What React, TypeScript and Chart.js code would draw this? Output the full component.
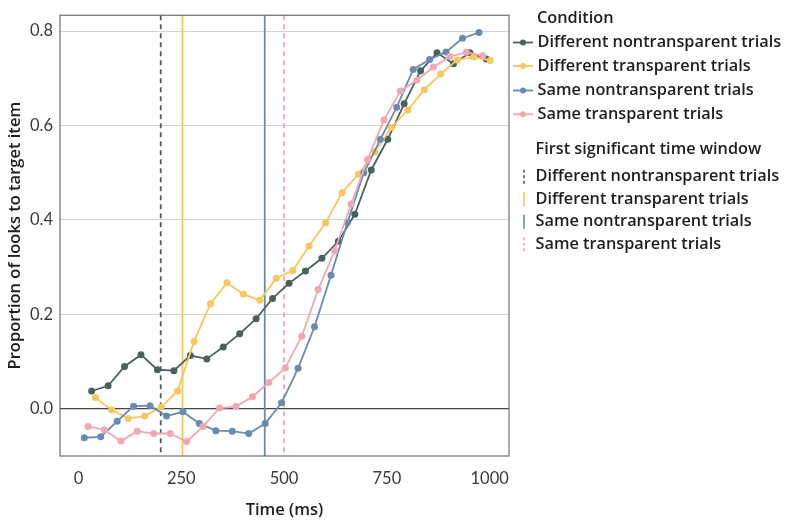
import React, { useEffect, useRef } from "react";
import { Chart, registerables } from "chart.js";
Chart.register(...registerables);

const seriesNames = [
  "Different nontransparent trials",
  "Different transparent trials",
  "Same nontransparent trials",
  "Same transparent trials",
];
const seriesColors = ["#4a6160", "#f5c75e", "#6a8ab0", "#f3a7b1"];

const diffNontranspTimes = [32, 72, 112, 152, 192, 232, 272, 312, 352, 392, 432, 472, 512, 552, 592, 632, 672, 712, 752, 792, 832, 872, 912, 952, 992];
const diffNontranspVals = [0.038, 0.049, 0.09, 0.115, 0.083, 0.081, 0.113, 0.106, 0.131, 0.159, 0.191, 0.234, 0.266, 0.292, 0.319, 0.355, 0.412, 0.506, 0.571, 0.646, 0.716, 0.754, 0.731, 0.754, 0.741];

const diffTranspTimes = [41, 81, 121, 161, 201, 241, 281, 321, 361, 401, 441, 481, 521, 561, 601, 641, 681, 721, 761, 801, 841, 881, 921, 961, 1001];
const diffTranspVals = [0.024, -0.002, -0.02, -0.015, 0.004, 0.038, 0.143, 0.223, 0.267, 0.243, 0.23, 0.277, 0.293, 0.345, 0.394, 0.458, 0.497, 0.544, 0.596, 0.633, 0.676, 0.709, 0.739, 0.745, 0.738];

const sameNontranspTimes = [14, 54, 94, 134, 174, 214, 254, 294, 334, 374, 414, 454, 494, 534, 574, 614, 654, 694, 734, 774, 814, 854, 894, 934, 974];
const sameNontranspVals = [-0.061, -0.059, -0.026, 0.006, 0.007, -0.015, -0.006, -0.031, -0.046, -0.047, -0.052, -0.031, 0.013, 0.086, 0.174, 0.283, 0.395, 0.5, 0.571, 0.639, 0.719, 0.74, 0.756, 0.785, 0.797];

const sameTranspTimes = [23, 63, 103, 143, 183, 223, 263, 303, 343, 383, 423, 463, 503, 543, 583, 623, 663, 703, 743, 783, 823, 863, 903, 943, 983];
const sameTranspVals = [-0.037, -0.044, -0.068, -0.047, -0.052, -0.052, -0.069, -0.037, 0.002, 0.005, 0.026, 0.056, 0.087, 0.154, 0.253, 0.335, 0.434, 0.528, 0.612, 0.673, 0.696, 0.724, 0.746, 0.755, 0.748];

const windowTimes = [200, 253, 453, 500];
const windowDashed = [true, false, false, true];

const xTicks = [0, 250, 500, 750, 1000];
const yTicks = [0, 0.2, 0.4, 0.6, 0.8];
const X_MIN = -45;
const X_MAX = 1047;
const Y_MIN = -0.0996;
const Y_MAX = 0.8336;

const LEGEND_FONT = "600 16.3px 'Open Sans'";
const TEXT_COLOR = "#1e1e1e";

const overlay = {
  id: "overlay",
  beforeDatasetsDraw(chart: any) {
    const { ctx, chartArea, scales } = chart;
    windowTimes.forEach((t, i) => {
      const px = scales.x.getPixelForValue(t);
      ctx.save();
      ctx.strokeStyle = seriesColors[i];
      ctx.lineWidth = 1.8;
      ctx.setLineDash(windowDashed[i] ? [5, 4] : []);
      ctx.beginPath();
      ctx.moveTo(px, chartArea.top);
      ctx.lineTo(px, chartArea.bottom);
      ctx.stroke();
      ctx.restore();
    });
  },
  afterDraw(chart: any) {
    const { ctx, chartArea } = chart;
    ctx.save();
    ctx.strokeStyle = "#6e6e6e";
    ctx.lineWidth = 1.2;
    ctx.setLineDash([]);
    ctx.strokeRect(chartArea.left, chartArea.top, chartArea.right - chartArea.left, chartArea.bottom - chartArea.top);

    ctx.font = LEGEND_FONT;
    ctx.fillStyle = TEXT_COLOR;
    ctx.textBaseline = "middle";
    ctx.textAlign = "left";
    ctx.fillText("Condition", 537, 18);
    const condY = [42.5, 66, 90.5, 114.3];
    seriesNames.forEach((name, i) => {
      const y = condY[i];
      ctx.strokeStyle = seriesColors[i];
      ctx.fillStyle = seriesColors[i];
      ctx.lineWidth = 1.8;
      ctx.beginPath();
      ctx.moveTo(513, y);
      ctx.lineTo(533, y);
      ctx.stroke();
      ctx.beginPath();
      ctx.arc(523, y, 3, 0, Math.PI * 2);
      ctx.fill();
      ctx.fillStyle = TEXT_COLOR;
      ctx.fillText(name, 537.5, y);
    });

    ctx.fillText("First significant time window", 535.5, 149);
    const winY = [176.7, 199.3, 221.7, 244.3];
    seriesNames.forEach((name, i) => {
      const y = winY[i];
      ctx.strokeStyle = seriesColors[i];
      ctx.lineWidth = 1.6;
      ctx.setLineDash(windowDashed[i] ? [3, 2.5] : []);
      ctx.beginPath();
      ctx.moveTo(524, y - 7);
      ctx.lineTo(524, y + 7);
      ctx.stroke();
      ctx.setLineDash([]);
      ctx.fillStyle = TEXT_COLOR;
      ctx.fillText(name, 535.5, y);
    });
    ctx.restore();
  },
};

export default function App() {
  const ref = useRef<HTMLCanvasElement>(null);
  useEffect(() => {
    const canvas = ref.current;
    if (!canvas) return;
    const mk = (i: number, times: number[], vals: number[]) => ({
      label: seriesNames[i],
      data: times.map((t, k) => ({ x: t, y: vals[k] })),
      borderColor: seriesColors[i],
      backgroundColor: seriesColors[i],
      borderWidth: 1.8,
      pointRadius: 3.5,
      pointBorderWidth: 0,
      pointHoverRadius: 3.5,
      tension: 0,
      fill: false,
    });
    const tickFont = { family: "Lato", size: 16.5, weight: "normal" as const, lineHeight: 1 };
    const titleFont = { family: "'Open Sans'", size: 16.5, weight: 600 as any, lineHeight: 1.2 };
    const chart = new Chart(canvas, {
      type: "line",
      data: {
        datasets: [
          mk(3, sameTranspTimes, sameTranspVals),
          mk(2, sameNontranspTimes, sameNontranspVals),
          mk(1, diffTranspTimes, diffTranspVals),
          mk(0, diffNontranspTimes, diffNontranspVals),
        ],
      },
      options: {
        animation: false,
        responsive: true,
        maintainAspectRatio: false,
        events: [],
        layout: { padding: { left: 0, right: 277, top: 8, bottom: 0 } },
        plugins: { legend: { display: false }, tooltip: { enabled: false } },
        scales: {
          x: {
            type: "linear",
            min: X_MIN,
            max: X_MAX,
            afterBuildTicks: (s: any) => {
              s.ticks = xTicks.map((v) => ({ value: v }));
            },
            afterFit: (s: any) => {
              s.height = 64;
            },
            grid: { display: false, drawTicks: false },
            border: { display: false },
            ticks: {
              padding: 14,
              font: tickFont,
              color: "#3a3a3a",
              maxRotation: 0,
              autoSkip: false,
              callback: (v: any) => String(v),
            },
            title: { display: true, text: "Time (ms)", font: titleFont, color: TEXT_COLOR, padding: { top: 0, bottom: 0 } },
          },
          y: {
            type: "linear",
            min: Y_MIN,
            max: Y_MAX,
            afterBuildTicks: (s: any) => {
              s.ticks = yTicks.map((v) => ({ value: v }));
            },
            afterFit: (s: any) => {
              s.width = 60;
            },
            grid: {
              drawTicks: false,
              color: (c: any) => (c.tick && Math.abs(c.tick.value) < 1e-9 ? "#444" : "#d2d2d2"),
              lineWidth: (c: any) => (c.tick && Math.abs(c.tick.value) < 1e-9 ? 1.2 : 1.1),
            },
            border: { display: false },
            ticks: {
              padding: 7,
              font: tickFont,
              color: "#3a3a3a",
              autoSkip: false,
              callback: (v: any) => Number(v).toFixed(1),
            },
            title: { display: true, text: "Proportion of looks to target item", font: titleFont, color: TEXT_COLOR, padding: { top: 5, bottom: 0 } },
          },
        },
      },
      plugins: [overlay],
    });
    return () => chart.destroy();
  }, []);
  return (
    <div style={{ position: "absolute", left: 0, top: 0, width: 786, height: 520 }}>
      <canvas ref={ref} />
    </div>
  );
}
